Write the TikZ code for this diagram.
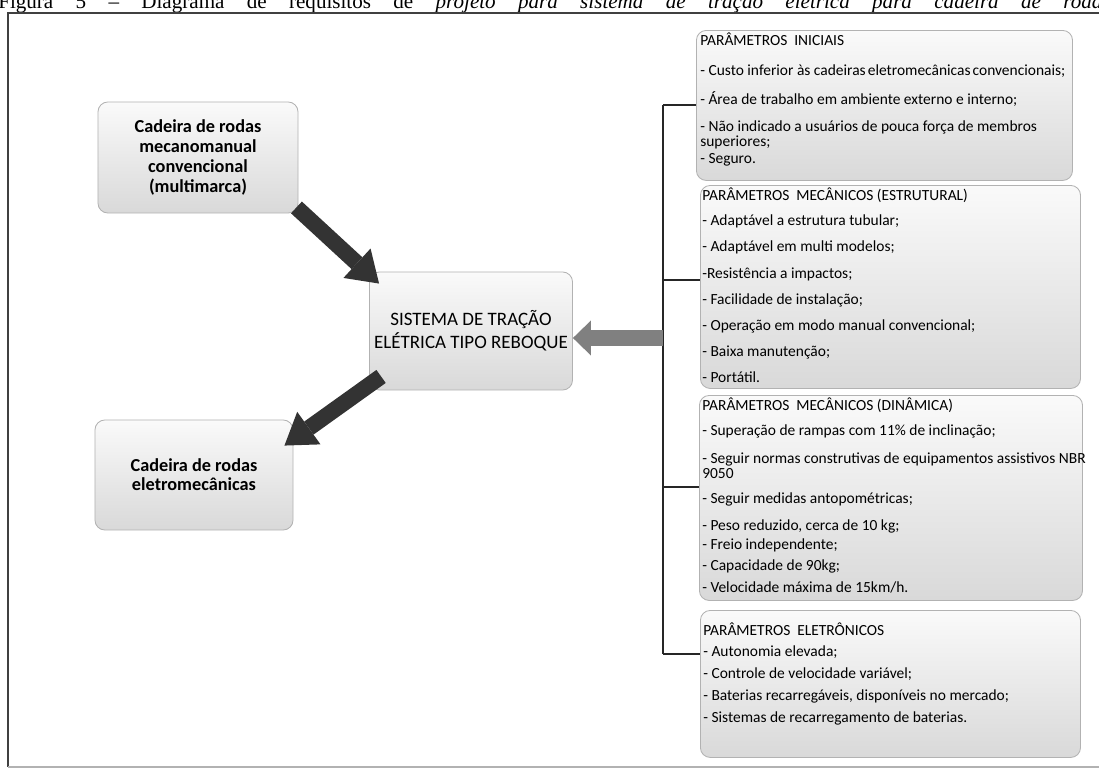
\documentclass[tikz,border=0pt]{standalone}
\usepackage{fontspec}
\setmainfont{Carlito}
\newfontfamily\legendafont{Liberation Serif}
\usetikzlibrary{positioning, arrows.meta, calc}

\tikzset{
  caixa/.style={draw=gray!60, line width=0.6pt, rounded corners=7pt,
    top color=gray!4, bottom color=gray!30},
  caixaesq/.style={caixa, align=center, font=\bfseries\fontsize{13}{14.2}\selectfont},
  caixacentro/.style={caixa, align=center, font=\fontsize{13.5}{16.4}\selectfont},
  caixaparam/.style={caixa, anchor=north west},
  textoparam/.style={anchor=north west, inner sep=0pt, align=left, font=\fontsize{11}{10.5}\selectfont},
  ramo/.style={line width=1.4pt, draw=black!85},
  moldura/.style={line width=0.9pt, draw=black!75},
  setaescura/.style={line width=0.4cm, draw=black!80,
    -{Triangle[width=1.0cm, length=0.75cm, line width=0pt]}},
  setacinza/.style={line width=0.4cm, draw=black!50,
    -{Triangle[width=0.875cm, length=0.45cm, line width=0pt]}},
}

\begin{document}
\begin{tikzpicture}[x=0.025cm, y=-0.025cm]
    \useasboundingbox (0,0) rectangle (1099,769);

    % legenda (cortada no topo)
    \node[anchor=base west, inner sep=0pt, font=\legendafont\fontsize{15}{17}\selectfont] (legenda) at (-2,8)
        {\makebox[27.8cm][s]{Figura 5 – Diagrama de requisitos de \textit{projeto para sistema de tração elétrica para cadeira de rodas}}};

    % moldura
    \draw[moldura] (1099,13) -| (8,767);
    \draw[moldura, draw=gray!60] (8,767) -- (1099,767);

    % caixas da esquerda e centro
    \node[caixaesq, minimum width=5cm, minimum height=2.775cm] (mecano) at (198,157.5)
        {Cadeira de rodas\\mecanomanual\\convencional\\(multimarca)};
    \node[caixacentro, minimum width=5.05cm, minimum height=2.95cm] (sistema) at (471,331)
        {SISTEMA DE TRAÇÃO\\ELÉTRICA TIPO REBOQUE};
    \node[caixaesq, font=\bfseries\fontsize{13}{13.5}\selectfont, minimum width=4.95cm, minimum height=2.75cm] (cadeletro) at (194,475)
        {Cadeira de rodas\\eletromecânicas};

    % caixas de parametros
    \node[caixaparam, minimum width=9.4cm, minimum height=3.75cm] (inic) at (696,30) {};
    \node[caixaparam, minimum width=9.5cm, minimum height=5.075cm] (estrut) at (700,185) {};
    \node[caixaparam, minimum width=9.575cm, minimum height=5.125cm] (dinam) at (699,395) {};
    \node[caixaparam, minimum width=9.5cm, minimum height=3.675cm] (eletron) at (700,610) {};

    % textos
    \node[textoparam] (tinic) at (700,33)
        {PARÂMETROS\ \ INICIAIS\\[10.8pt]
         - Custo inferior às cadeiras\hspace{1.5pt}eletromecânicas\hspace{1.5pt}convencionais;\\[8.7pt]
         - Área de trabalho em ambiente externo e interno;\\[8.7pt]
         - Não indicado a usuários de pouca força de membros\\
         superiores;\\[1.5pt]
         - Seguro.};
    \node[textoparam] (testrut) at (702,188)
        {PARÂMETROS\ \ MECÂNICOS (ESTRUTURAL)\\[7.3pt]
         - Adaptável a estrutura tubular;\\[8pt]
         - Adaptável em multi modelos;\\[8pt]
         -Resistência a impactos;\\[8pt]
         - Facilidade de instalação;\\[8pt]
         - Operação em modo manual convencional;\\[8pt]
         - Baixa manutenção;\\[8pt]
         - Portátil.};
    \node[textoparam] (tdinam) at (702,398)
        {PARÂMETROS\ \ MECÂNICOS (DINÂMICA)\\[7.3pt]
         - Superação de rampas com 11\% de inclinação;\\[9.4pt]
         - Seguir normas construtivas de equipamentos assistivos NBR\\
         9050\\[7.3pt]
         - Seguir medidas antopométricas;\\[8.7pt]
         - Peso reduzido, cerca de 10 kg;\\[3pt]
         - Freio independente;\\[4.4pt]
         - Capacidade de 90kg;\\[5.1pt]
         - Velocidade máxima de 15km/h.};
    \node[textoparam] (teletron) at (703,623)
        {PARÂMETROS\ \ ELETRÔNICOS\\[4.4pt]
         - Autonomia elevada;\\[5.1pt]
         - Controle de velocidade variável;\\[5.1pt]
         - Baterias recarregáveis, disponíveis no mercado;\\[5.1pt]
         - Sistemas de recarregamento de baterias.};

    % chave de ligacao
    \foreach \c/\y/\n in {r1/105/inic, r2/280/estrut, r3/487/dinam, r4/654/eletron} {
        \coordinate (\c) at (663,\y);
        \draw[ramo] (\c) -- (\c -| \n.west);
    }
    \draw[ramo] (r1) -- (r4);

    % setas
    \coordinate (tronco) at (663,338);
    \draw[setacinza] (tronco) -- (tronco -| sistema.east);
    \draw[setaescura] ($(mecano.south east)+(-2,-6)$) -- ($(sistema.north west)+(10,12)$);
    \draw[setaescura] ($(sistema.south west)+(12,-14)$) -- ($(cadeletro.north east)+(-9,26)$);
\end{tikzpicture}
\end{document}
